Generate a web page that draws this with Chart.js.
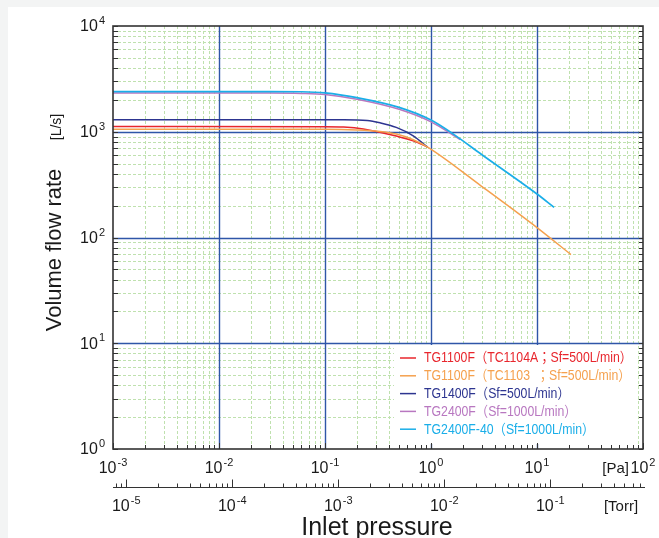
<!DOCTYPE html>
<html>
<head>
<meta charset="utf-8">
<script src="https://cdn.jsdelivr.net/npm/chart.js@4.4.0/dist/chart.umd.min.js"></script>
<style>
  html, body { margin: 0; padding: 0; width: 659px; height: 538px; overflow: hidden; background: #f3f4f4; }
  #card { position: absolute; left: 8px; top: 7px; right: 0; bottom: 0; background: #fff; }
  #flowChart { position: absolute; left: 0; top: 0; }
</style>
</head>
<body>
<div id="card"></div>
<canvas id="flowChart" width="659" height="538"></canvas>
<script>
// legend texts and colours, same order as the legend
const seriesLabels = [
    'TG1100F（TC1104A；Sf=500L/min）',
    'TG1100F（TC1103  ；Sf=500L/min）',
    'TG1400F（Sf=500L/min）',
    'TG2400F（Sf=1000L/min）',
    'TG2400F-40（Sf=1000L/min）'
];
const seriesColors = ['#e8262d', '#f5a14e', '#2d3590', '#b877c0', '#1aaee8'];

// inlet pressure [Pa] and volume flow rate [L/s]
const tg1100fA_p = [0.001, 0.1, 0.15, 0.23, 0.47, 0.68, 0.93];
const tg1100fA_q = [1120, 1118, 1108, 1060, 910, 822, 715];
const tg1100fB_p = [0.001, 0.1, 0.2, 0.33, 0.47, 0.68, 0.93, 3, 10, 20.9];
const tg1100fB_q = [1055, 1055, 1040, 1006, 951, 841, 715, 305, 124, 69];
const tg1400f_p = [0.001, 0.15, 0.25, 0.33, 0.47, 0.68, 0.93];
const tg1400f_q = [1300, 1300, 1280, 1216, 1100, 916, 715];
const tg2400f_p = [0.001, 0.03, 0.06, 0.1, 0.2, 0.5, 1, 1.88];
const tg2400f_q = [2325, 2325, 2305, 2250, 2030, 1630, 1240, 845];
const tg2400f40_p = [0.001, 0.03, 0.06, 0.1, 0.2, 0.5, 1, 1.6, 3, 10, 14.5];
const tg2400f40_q = [2400, 2400, 2390, 2330, 2100, 1700, 1290, 960, 610, 258, 193];

// axis decades and their exponent labels
const paDecades = [1e-3, 1e-2, 1e-1, 1, 10, 100];
const paExps = ['-3', '-2', '-1', '0', '1', '2'];
const torrDecades = [1e-5, 1e-4, 1e-3, 1e-2, 1e-1];
const torrExps = ['-5', '-4', '-3', '-2', '-1'];
const flowDecades = [1, 10, 100, 1000, 10000];
const flowExps = ['0', '1', '2', '3', '4'];
const PA_PER_TORR = 133.322;

const FONT = '"Liberation Sans", Arial, "Noto Sans CJK JP", sans-serif';

function toPoints(ps, qs) {
    return ps.map((p, i) => ({ x: p, y: qs[i] }));
}

// 1..9 x 10^n between lo and hi
function logSteps(lo, hi) {
    const out = [];
    for (let e = Math.floor(Math.log10(lo)) - 1; e <= Math.ceil(Math.log10(hi)); e++) {
        for (let m = 1; m <= 9; m++) {
            const v = m * Math.pow(10, e);
            if (v >= lo * 0.9999 && v <= hi * 1.0001) out.push({ v: v, major: m === 1 });
        }
    }
    return out;
}

function powLabel(ctx, exp, x, y, align) {
    ctx.font = '16px ' + FONT;
    const wb = ctx.measureText('10').width;
    ctx.font = '11px ' + FONT;
    const we = ctx.measureText(exp).width;
    const x0 = align === 'right' ? x - wb - we - 1 : x - (wb + we + 1) / 2;
    ctx.textAlign = 'left';
    ctx.textBaseline = 'middle';
    ctx.font = '16px ' + FONT;
    ctx.fillText('10', x0, y);
    ctx.font = '11px ' + FONT;
    ctx.fillText(exp, x0 + wb + 1, y - 6);
}

const plotDecor = {
    id: 'plotDecor',
    beforeDatasetsDraw(chart) {
        const { ctx, chartArea: a, scales: { x, y } } = chart;
        ctx.save();
        // minor grid, dashed green
        ctx.strokeStyle = '#bfe1ae';
        ctx.lineWidth = 1;
        ctx.setLineDash([3, 2]);
        logSteps(x.min, x.max).forEach(s => {
            if (s.major) return;
            const px = Math.round(x.getPixelForValue(s.v)) + 0.5;
            ctx.beginPath(); ctx.moveTo(px, a.top); ctx.lineTo(px, a.bottom); ctx.stroke();
        });
        logSteps(y.min, y.max).forEach(s => {
            if (s.major) return;
            const py = Math.round(y.getPixelForValue(s.v)) + 0.5;
            ctx.beginPath(); ctx.moveTo(a.left, py); ctx.lineTo(a.right, py); ctx.stroke();
        });
        ctx.setLineDash([]);
        // decade grid, blue
        ctx.strokeStyle = '#2f56a8';
        ctx.lineWidth = 1.4;
        paDecades.slice(1, -1).forEach(v => {
            const px = Math.round(x.getPixelForValue(v)) + 0.5;
            ctx.beginPath(); ctx.moveTo(px, a.top); ctx.lineTo(px, a.bottom); ctx.stroke();
        });
        flowDecades.slice(1, -1).forEach(v => {
            const py = Math.round(y.getPixelForValue(v)) + 0.5;
            ctx.beginPath(); ctx.moveTo(a.left, py); ctx.lineTo(a.right, py); ctx.stroke();
        });
        ctx.restore();
    },
    afterDatasetsDraw(chart) {
        const { ctx, chartArea: a, scales: { x, y, torr } } = chart;
        ctx.save();

        // legend box, text squeezed a little like the original font
        ctx.fillStyle = '#fff';
        ctx.fillRect(394, 345, 243, 99);
        ctx.font = '14px ' + FONT;
        const squeeze = Math.min(1, 208 / ctx.measureText(seriesLabels[0]).width);
        chart.data.datasets.forEach((ds, i) => {
            const ly = 358 + i * 17.8;
            ctx.strokeStyle = ds.borderColor;
            ctx.lineWidth = 1.5;
            ctx.beginPath(); ctx.moveTo(400, ly); ctx.lineTo(416, ly); ctx.stroke();
            ctx.fillStyle = ds.borderColor;
            ctx.textAlign = 'left';
            ctx.textBaseline = 'middle';
            ctx.fillText(ds.label, 424, ly + 0.5, ctx.measureText(ds.label).width * squeeze);
        });

        // frame and inside ticks
        ctx.strokeStyle = '#333';
        ctx.lineWidth = 1;
        logSteps(y.min, y.max).forEach(s => {
            const py = Math.round(y.getPixelForValue(s.v)) + 0.5;
            ctx.beginPath();
            ctx.moveTo(a.left, py); ctx.lineTo(a.left + 5, py);
            ctx.moveTo(a.right - 4, py); ctx.lineTo(a.right, py);
            ctx.stroke();
        });
        logSteps(x.min, x.max).forEach(s => {
            const px = Math.round(x.getPixelForValue(s.v)) + 0.5;
            ctx.beginPath();
            ctx.moveTo(px, a.bottom); ctx.lineTo(px, a.bottom - (s.major ? 6 : 4));
            ctx.stroke();
        });
        ctx.lineWidth = 1.6;
        ctx.strokeRect(a.left, a.top, a.right - a.left, a.bottom - a.top);

        // torr axis under the plot
        const ty = 487.5;
        ctx.lineWidth = 1.2;
        ctx.beginPath(); ctx.moveTo(a.left, ty); ctx.lineTo(a.right + 2, ty); ctx.stroke();
        ctx.lineWidth = 1;
        logSteps(torr.min, torr.max).forEach(s => {
            const px = Math.round(torr.getPixelForValue(s.v)) + 0.5;
            ctx.beginPath(); ctx.moveTo(px, ty); ctx.lineTo(px, ty - (s.major ? 8 : 4)); ctx.stroke();
        });

        // tick labels
        ctx.fillStyle = '#1a1a1a';
        flowDecades.forEach((v, i) => powLabel(ctx, flowExps[i], 105, y.getPixelForValue(v) + 1, 'right'));
        paDecades.forEach((v, i) => powLabel(ctx, paExps[i], x.getPixelForValue(v), 469, 'center'));
        torrDecades.forEach((v, i) => powLabel(ctx, torrExps[i], torr.getPixelForValue(v), 507, 'center'));
        ctx.font = '15px ' + FONT;
        ctx.textAlign = 'right';
        ctx.textBaseline = 'middle';
        ctx.fillText('[Pa]', 629, 469);
        ctx.textAlign = 'center';
        ctx.fillText('[Torr]', 621, 507);

        // axis titles
        ctx.font = '25px ' + FONT;
        ctx.textBaseline = 'alphabetic';
        ctx.fillText('Inlet pressure', 377, 535);
        ctx.save();
        ctx.translate(61, 250);
        ctx.rotate(-Math.PI / 2);
        ctx.font = '22px ' + FONT;
        ctx.fillText('Volume flow rate', 0, 0);
        ctx.restore();
        ctx.save();
        ctx.translate(61, 127);
        ctx.rotate(-Math.PI / 2);
        ctx.font = '14px ' + FONT;
        ctx.fillText('[L/s]', 0, 0);
        ctx.restore();

        ctx.restore();
    }
};

const seriesData = [
    toPoints(tg1100fA_p, tg1100fA_q),
    toPoints(tg1100fB_p, tg1100fB_q),
    toPoints(tg1400f_p, tg1400f_q),
    toPoints(tg2400f_p, tg2400f_q),
    toPoints(tg2400f40_p, tg2400f40_q)
];
const drawOrder = [4, 2, 3, 1, 0]; // lower = on top

new Chart(document.getElementById('flowChart'), {
    type: 'scatter',
    data: {
        datasets: seriesData.map((pts, i) => ({
            label: seriesLabels[i],
            data: pts,
            showLine: true,
            borderColor: seriesColors[i],
            backgroundColor: seriesColors[i],
            borderWidth: i === 4 ? 1.7 : 1.5,
            pointRadius: 0,
            cubicInterpolationMode: 'monotone',
            order: drawOrder[i]
        }))
    },
    options: {
        responsive: false,
        animation: false,
        layout: { padding: { left: 113, right: 16, top: 26, bottom: 89 } },
        plugins: { legend: { display: false }, tooltip: { enabled: false } },
        scales: {
            x: { type: 'logarithmic', min: 1e-3, max: 100, display: false },
            y: { type: 'logarithmic', min: 1, max: 1e4, display: false },
            torr: { type: 'logarithmic', axis: 'x', position: 'bottom', min: 1e-3 / PA_PER_TORR, max: 100 / PA_PER_TORR, display: false }
        }
    },
    plugins: [plotDecor]
});
</script>
</body>
</html>
